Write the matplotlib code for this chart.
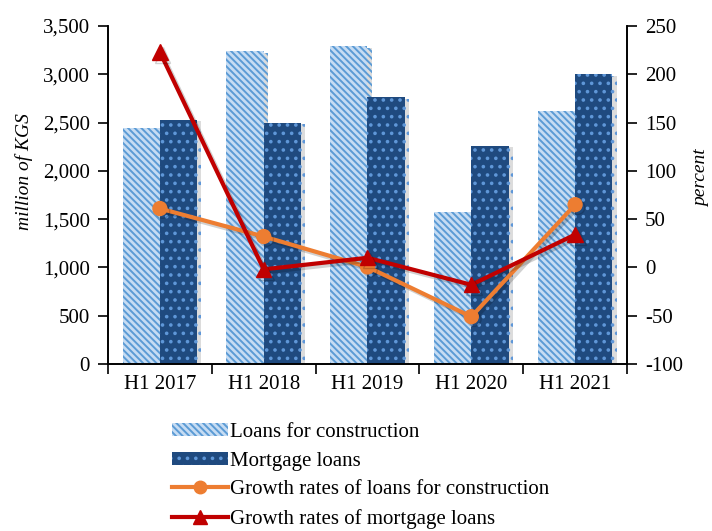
import matplotlib
matplotlib.use("Agg")
import matplotlib.pyplot as plt
import matplotlib.patheffects as pe
from matplotlib.ticker import FuncFormatter, FixedLocator
from matplotlib.lines import Line2D
from matplotlib.patches import Patch
import numpy as np

categories = ["H1 2017", "H1 2018", "H1 2019", "H1 2020", "H1 2021"]
construction_loans = [2440, 3240, 3290, 1575, 2615]
mortgage_loans = [2530, 2500, 2760, 2260, 3000]
growth_construction = [61, 32, 0.5, -51, 65]
growth_mortgage = [223, -2, 10, -18, 34]

plt.rcParams['font.family'] = ['Liberation Serif', 'DejaVu Serif']
plt.rcParams['axes.unicode_minus'] = False
plt.rcParams['hatch.linewidth'] = 1.4

c_con_face, c_con_hatch = '#C6DCF3', '#5B9BD5'
c_mort_face, c_mort_hatch = '#1F4A7F', '#5F97D8'
c_orange, c_red = '#ED7D31', '#C00000'

fig = plt.figure(figsize=(7.12, 5.31), dpi=100)
ax = fig.add_axes([0.1517, 0.3145, 0.7289, 0.6365])
ax2 = ax.twinx()

x = np.arange(len(categories))
w = 0.36
shadow = [pe.SimplePatchShadow(offset=(3, -1), shadow_rgbFace='#777777', alpha=0.25), pe.Normal()]
ax.bar(x - w/2, construction_loans, w, facecolor=c_con_face, edgecolor=c_con_hatch,
       hatch='\\\\\\\\\\', linewidth=0, path_effects=shadow)
ax.bar(x + w/2, mortgage_loans, w, facecolor=c_mort_face, edgecolor=c_mort_hatch,
       hatch='..', linewidth=0, path_effects=shadow)

lshadow = [pe.SimpleLineShadow(offset=(2, -2), alpha=0.18), pe.Normal()]
ax2.plot(x, growth_construction, color=c_orange, lw=3, marker='o', ms=10,
         path_effects=lshadow)
ax2.plot(x, growth_mortgage, color=c_red, lw=3, marker='^', ms=11,
         path_effects=lshadow)

ax.set_xlim(-0.5, 4.5)
ax.set_ylim(0, 3500)
ax2.set_ylim(-100, 250)
ax.set_yticks(np.arange(0, 3501, 500))
ax2.set_yticks(np.arange(-100, 251, 50))
ax.yaxis.set_major_formatter(FuncFormatter(lambda v, p: f"{int(v):,}"))

ax.set_xticks(x)
ax.set_xticklabels(categories)
ax.xaxis.set_minor_locator(FixedLocator(np.arange(-0.5, 4.6, 1)))
ax.tick_params(axis='x', which='major', length=0, pad=8, labelsize=15)
ax.tick_params(axis='x', which='minor', length=7, width=1.2, direction='out')
ax.tick_params(axis='y', length=7, width=1.2, direction='out', labelsize=15, pad=6)
ax2.tick_params(axis='y', length=7, width=1.2, direction='out', labelsize=15, pad=6)

for a in (ax, ax2):
    a.spines['top'].set_visible(False)
    for s in ('left', 'right', 'bottom'):
        a.spines[s].set_linewidth(1.2)
        a.spines[s].set_color('black')

ax.set_ylabel('million of KGS', fontstyle='italic', fontsize=14)
ax.yaxis.set_label_coords(-0.145, 0.57)
ax2.set_ylabel('percent', fontstyle='italic', fontsize=14, rotation=90)
ax2.yaxis.set_label_coords(1.127, 0.55)

handles = [
    Patch(facecolor=c_con_face, edgecolor=c_con_hatch, hatch='\\\\\\\\\\', linewidth=0),
    Patch(facecolor=c_mort_face, edgecolor=c_mort_hatch, hatch='..', linewidth=0),
    Line2D([], [], color=c_orange, lw=3, marker='o', ms=9),
    Line2D([], [], color=c_red, lw=3, marker='^', ms=10),
]
labels = ['Loans for construction', 'Mortgage loans',
          'Growth rates of loans for construction', 'Growth rates of mortgage loans']
fig.legend(handles=handles, labels=labels, loc='upper left',
           bbox_to_anchor=(0.2416, 0.203), frameon=False, fontsize=15,
           handlelength=2.7, handleheight=0.6, handletextpad=0.1, labelspacing=0.46,
           borderaxespad=0, borderpad=0)

fig.savefig('out.png', dpi=100)
